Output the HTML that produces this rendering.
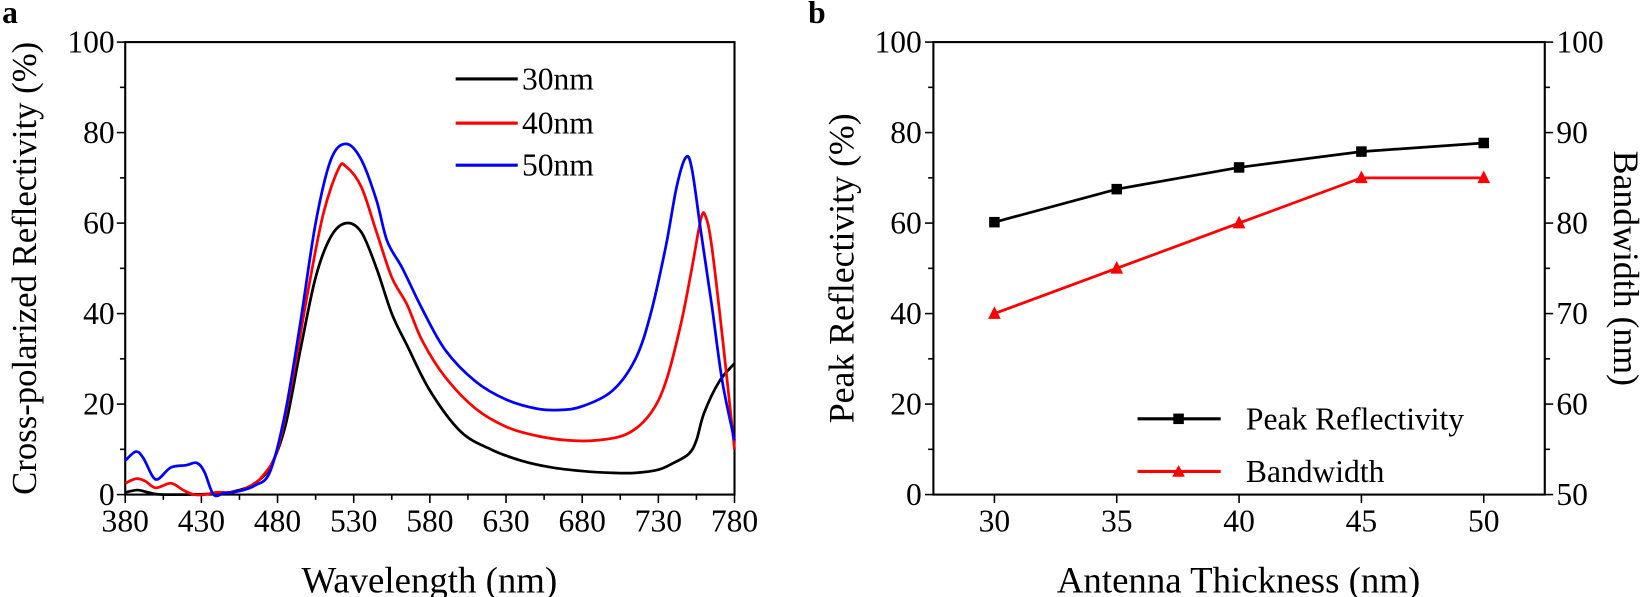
<!DOCTYPE html>
<html><head><meta charset="utf-8"><style>
html,body{margin:0;padding:0;background:#fff}
svg{display:block;font-family:"Liberation Serif",serif}
</style></head><body>
<svg id="s" width="1650" height="597" viewBox="0 0 1650 597" xmlns="http://www.w3.org/2000/svg">
<g font-size="30" fill="#000" transform="scale(1.0523)">
<text x="2" y="22" font-weight="bold" font-size="30">a</text>
<text x="768" y="22" font-weight="bold" font-size="30">b</text>
<rect x="119" y="40" width="579" height="430" fill="none" stroke="#000" stroke-width="2"/>
<rect x="887" y="40" width="581" height="430" fill="none" stroke="#000" stroke-width="2"/>
<text x="408" y="563" font-size="35" text-anchor="middle">Wavelength (nm)</text>
<text transform="translate(34,255) rotate(-90)" font-size="33" text-anchor="middle">Cross-polarized Reflectivity (%)</text>
<text x="1177" y="563" font-size="35" text-anchor="middle">Antenna Thickness (nm)</text>
<text transform="translate(811,255) rotate(-90)" font-size="34" text-anchor="middle">Peak Reflectivity (%)</text>
<text transform="translate(1534,255) rotate(90)" font-size="34" text-anchor="middle">Bandwidth (nm)</text>
<g id="ticks"></g>
<line x1="433" y1="75" x2="492" y2="75" stroke="#000" stroke-width="3"/>
<line x1="433" y1="117" x2="492" y2="117" stroke="#f00" stroke-width="3"/>
<line x1="433" y1="157" x2="492" y2="157" stroke="#00f" stroke-width="3"/>
<text x="496" y="85">30nm</text><text x="496" y="127">40nm</text><text x="496" y="167">50nm</text>
<line x1="1081" y1="398" x2="1160" y2="398" stroke="#000" stroke-width="3"/>
<rect x="1115" y="393" width="10" height="10" fill="#000"/>
<line x1="1081" y1="448" x2="1160" y2="448" stroke="#f00" stroke-width="3"/>
<polygon points="1120,442 1126,453 1114,453" fill="#f00"/>
<text x="1184" y="408">Peak Reflectivity</text>
<text x="1184" y="458">Bandwidth</text>
<g id="curves"></g>
</g>
</svg>
<script>
var NS="http://www.w3.org/2000/svg";
function el(t,a,p){var e=document.createElementNS(NS,t);for(var k in a)e.setAttribute(k,a[k]);p.appendChild(e);return e;}
var T=document.getElementById("ticks"),C=document.getElementById("curves");
function ln(x1,y1,x2,y2){el("line",{x1:x1,y1:y1,x2:x2,y2:y2,stroke:"#000","stroke-width":1.5},T);}
function tx(x,y,s,a){var t=el("text",{x:x,y:y,"text-anchor":a},T);t.textContent=s;}
function ax(n){return 119+(n-380)*1.4475;} function ay(v){return 470-4.3*v;}
for(var v=0;v<=100;v+=10){ln(119,ay(v),v%20?114:111,ay(v));if(v%20==0)tx(109,ay(v)+10,v,"end");}
for(var n=380;n<=780;n+=25){var m=(n-380)%50==0;ln(ax(n),470,ax(n),m?478:475);if(m)tx(ax(n),505,n,"middle");}
function bx(t){return 945+(t-30)*23.25;}
for(var v=0;v<=100;v+=10){var y=470-4.3*v;ln(887,y,v%20?882:879,y);ln(1468,y,v%20?1473:1476,y);if(v%20==0){tx(876,y+10,v,"end");tx(1479,y+10,50+v/2,"start");}}
for(var t=30;t<=50;t+=5){ln(bx(t),470,bx(t),478);tx(bx(t),505,t,"middle");}
function path(pts,col){
 var P=pts.map(function(p){return [ax(p[0]),ay(p[1])];});var d="M"+P[0][0]+","+P[0][1];
 for(var i=0;i<P.length-1;i++){var p0=P[Math.max(0,i-1)],p1=P[i],p2=P[i+1],p3=P[Math.min(P.length-1,i+2)];
  d+=" C"+(p1[0]+(p2[0]-p0[0])/6)+","+(p1[1]+(p2[1]-p0[1])/6)+" "+(p2[0]-(p3[0]-p1[0])/6)+","+(p2[1]-(p3[1]-p1[1])/6)+" "+p2[0]+","+p2[1];}
 el("path",{d:d,fill:"none",stroke:col,"stroke-width":2.6},C);}
path([[380,0.5],[388,1],[395,0.5],[405,0],[440,0.2],[455,1],[465,2.5],[475,6],[485,15],[495,32],[505,48],[515,57],[525,60],[535,58],[545,50],[555,40],[565,33],[580,23],[600,14],[620,10],[640,7.5],[660,6],[680,5.2],[700,4.8],[715,4.8],[730,5.5],[740,7],[750,9],[755,12],[760,18],[770,25],[780,29]],"#000");
path([[380,2.5],[387,3.5],[393,3],[400,1.5],[410,2.5],[418,1],[425,0],[432,0],[440,0.5],[450,0.5],[460,1.5],[470,4],[480,10],[490,26],[500,45],[510,62],[520,72],[525,72.5],[535,68],[545,58],[555,48],[565,42],[575,34],[590,26],[610,19],[630,15],[650,13],[670,12],[690,12],[710,13.5],[725,18],[735,25],[745,38],[752,50],[758,61],[761,61.5],[765,55],[772,35],[780,10]],"#f00");
path([[380,7.5],[387,9.5],[392,8],[398,4],[402,3.5],[410,6],[420,6.5],[427,7],[432,5],[438,0],[445,0.3],[455,0.8],[465,2],[475,5],[485,18],[495,38],[505,60],[515,74],[525,77.5],[535,74],[545,65],[552,56],[562,50],[575,41],[590,32],[610,25],[630,21],[650,19],[665,18.7],[680,19.5],[700,23],[715,30],[725,40],[735,55],[742,68],[748,74.5],[752,72],[758,58],[765,42],[772,25],[780,12]],"#00f");
var pk=[60.2,67.5,72.3,75.8,77.7],bw=[70,75,80,85,85];
var s1="",s2="";
for(var i=0;i<5;i++){var x=bx(30+5*i);s1+=x+","+(470-4.3*pk[i])+" ";s2+=x+","+(470-4.3*(bw[i]-50)*2)+" ";}
el("polyline",{points:s1,fill:"none",stroke:"#000","stroke-width":2.6},C);
el("polyline",{points:s2,fill:"none",stroke:"#f00","stroke-width":2.6},C);
for(var i=0;i<5;i++){var x=bx(30+5*i),y=470-4.3*pk[i];el("rect",{x:x-5,y:y-5,width:10,height:10,fill:"#000"},C);
 var y2=470-4.3*(bw[i]-50)*2;el("polygon",{points:x+","+(y2-7)+" "+(x+6)+","+(y2+5)+" "+(x-6)+","+(y2+5),fill:"#f00"},C);}
</script>
</body></html>
